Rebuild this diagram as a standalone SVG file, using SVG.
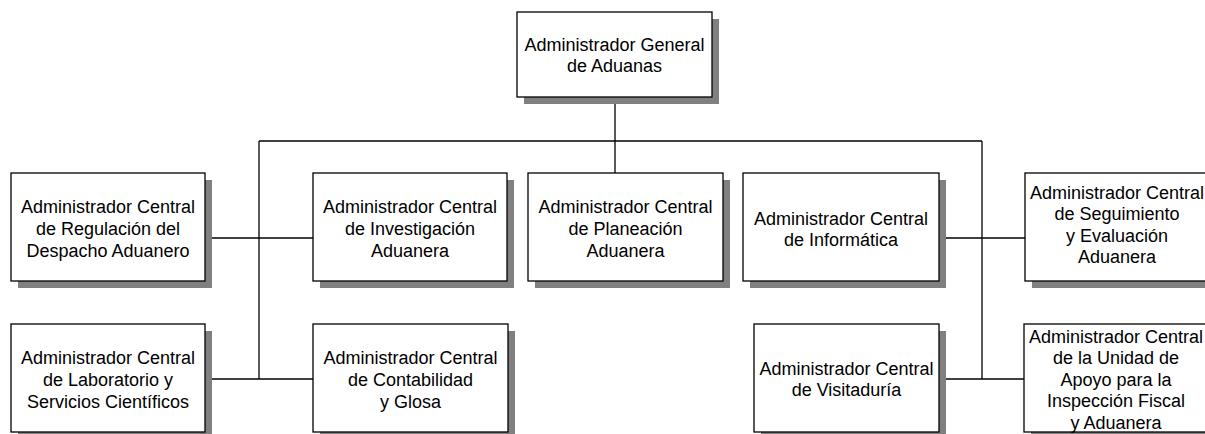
<svg xmlns="http://www.w3.org/2000/svg" width="1205" height="434" viewBox="0 0 1205 434">
  <style>
    .shadow { fill: #808080; }
    .box { fill: #ffffff; stroke: #000000; stroke-width: 1.3; }
    .lbl { font-family: "Liberation Sans", Arial, sans-serif; font-size: 18px; fill: #000000; text-anchor: middle; }
    .wire { fill: none; stroke: #000000; stroke-width: 1.3; }
  </style>
  <rect width="1205" height="434" fill="#ffffff"/>

  <!-- connectors -->
  <g id="connectors">
    <path class="wire" d="M615 97 V141"/>
    <path class="wire" d="M259 141 H982"/>
    <path class="wire" d="M615 141 V173"/>
    <path class="wire" d="M259 141 V379"/>
    <path class="wire" d="M982 141 V379"/>
    <path class="wire" d="M205 238 H313"/>
    <path class="wire" d="M939 238 H1025"/>
    <path class="wire" d="M205 379 H313"/>
    <path class="wire" d="M939 379 H1024"/>
  </g>

  <g id="general">
    <rect class="shadow" x="524" y="19" width="195" height="85"/>
    <rect class="box" x="517" y="12" width="195" height="85"/>
    <text class="lbl" x="614.5"><tspan x="614.5" y="51">Administrador General</tspan><tspan x="614.5" y="72">de Aduanas</tspan></text>
  </g>

  <g id="regulacion">
    <rect class="shadow" x="18" y="180" width="194" height="108"/>
    <rect class="box" x="11" y="173" width="194" height="108"/>
    <text class="lbl"><tspan x="108" y="213">Administrador Central</tspan><tspan x="108" y="235">de Regulación del</tspan><tspan x="108" y="257">Despacho Aduanero</tspan></text>
  </g>

  <g id="investigacion">
    <rect class="shadow" x="320" y="180" width="194" height="108"/>
    <rect class="box" x="313" y="173" width="194" height="108"/>
    <text class="lbl"><tspan x="410" y="213">Administrador Central</tspan><tspan x="410" y="235">de Investigación</tspan><tspan x="410" y="257">Aduanera</tspan></text>
  </g>

  <g id="planeacion">
    <rect class="shadow" x="535" y="180" width="195" height="108"/>
    <rect class="box" x="528" y="173" width="195" height="108"/>
    <text class="lbl"><tspan x="625.5" y="213">Administrador Central</tspan><tspan x="625.5" y="235">de Planeación</tspan><tspan x="625.5" y="257">Aduanera</tspan></text>
  </g>

  <g id="informatica">
    <rect class="shadow" x="750" y="180" width="196" height="108"/>
    <rect class="box" x="743" y="173" width="196" height="108"/>
    <text class="lbl"><tspan x="841" y="224.5">Administrador Central</tspan><tspan x="841" y="246">de Informática</tspan></text>
  </g>

  <g id="seguimiento">
    <rect class="shadow" x="1032" y="180" width="194" height="108"/>
    <rect class="box" x="1025" y="173" width="194" height="108"/>
    <text class="lbl"><tspan x="1117" y="198.5">Administrador Central</tspan><tspan x="1117" y="220">de Seguimiento</tspan><tspan x="1117" y="241.5">y Evaluación</tspan><tspan x="1117" y="263">Aduanera</tspan></text>
  </g>

  <g id="laboratorio">
    <rect class="shadow" x="18" y="331" width="194" height="108"/>
    <rect class="box" x="11" y="324" width="194" height="108"/>
    <text class="lbl"><tspan x="108" y="364">Administrador Central</tspan><tspan x="108" y="386">de Laboratorio y</tspan><tspan x="108" y="408">Servicios Científicos</tspan></text>
  </g>

  <g id="contabilidad">
    <rect class="shadow" x="320" y="331" width="195" height="108"/>
    <rect class="box" x="313" y="324" width="195" height="108"/>
    <text class="lbl"><tspan x="410.5" y="364">Administrador Central</tspan><tspan x="410.5" y="386">de Contabilidad</tspan><tspan x="410.5" y="408">y Glosa</tspan></text>
  </g>

  <g id="visitaduria">
    <rect class="shadow" x="761" y="331" width="185" height="108"/>
    <rect class="box" x="754" y="324" width="185" height="108"/>
    <text class="lbl"><tspan x="846.5" y="374.5">Administrador Central</tspan><tspan x="846.5" y="396">de Visitaduría</tspan></text>
  </g>

  <g id="unidad-apoyo">
    <rect class="shadow" x="1031" y="331" width="194" height="108"/>
    <rect class="box" x="1024" y="324" width="194" height="108"/>
    <text class="lbl"><tspan x="1116" y="342.5">Administrador Central</tspan><tspan x="1116" y="364">de la Unidad de</tspan><tspan x="1116" y="385.5">Apoyo para la</tspan><tspan x="1116" y="407">Inspección Fiscal</tspan><tspan x="1116" y="428.5">y Aduanera</tspan></text>
  </g>
</svg>
